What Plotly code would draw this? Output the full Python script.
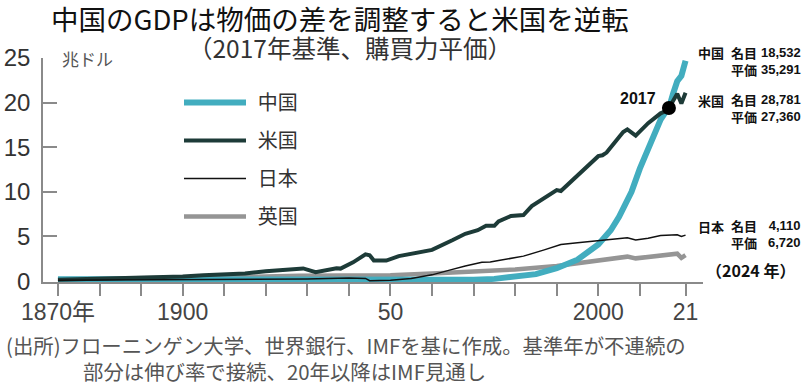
import plotly.graph_objects as go

# ---------------- data (trillion dollars, 2017 PPP) -------------
china_years = [1870, 1900, 1930, 1944, 1950, 1960, 1970, 1975, 1979, 1985, 1990, 1995,
               2000, 2003, 2005, 2008, 2010, 2012, 2013, 2015, 2016, 2017, 2018, 2019, 2020, 2021]
china_vals = [0.2, 0.2, 0.2, 0.05, 0.1, 0.15, 0.15, 0.25, 0.4, 0.78, 1.45, 2.4,
              4.1, 5.7, 7.2, 10.0, 12.6, 14.8, 16.3, 18.1, 18.8, 19.4, 21.0, 22.4, 23.0, 24.7]

us_years = [1870, 1880, 1890, 1900, 1905, 1910, 1915, 1920, 1925, 1929, 1932, 1936, 1937,
            1938, 1941, 1944, 1945, 1946, 1949, 1952, 1957, 1960, 1965, 1968, 1971, 1973,
            1975, 1976, 1979, 1982, 1984, 1990, 1991, 1995, 2000, 2001, 2002, 2006, 2007,
            2009, 2012, 2015, 2016, 2017, 2019, 2020, 2021]
us_vals = [0.15, 0.25, 0.37, 0.52, 0.65, 0.78, 0.85, 1.1, 1.3, 1.42, 1.0, 1.33, 1.45,
           1.4, 2.1, 3.0, 2.9, 2.3, 2.3, 2.8, 3.25, 3.5, 4.6, 5.3, 5.7, 6.2,
           6.2, 6.7, 7.3, 7.4, 8.4, 10.2, 10.1, 11.9, 14.0, 14.1, 14.4, 16.7, 17.0,
           16.3, 17.7, 18.8, 19.0, 19.4, 21.0, 19.9, 21.1]

japan_years = [1870, 1900, 1920, 1930, 1940, 1944, 1945, 1950, 1955, 1960, 1964, 1968,
               1972, 1974, 1976, 1982, 1987, 1991, 1995, 2000, 2007, 2009, 2012, 2015,
               2019, 2020, 2021]
japan_vals = [0.1, 0.15, 0.25, 0.25, 0.35, 0.3, 0.05, 0.1, 0.3, 0.7, 1.2, 1.7,
              2.1, 2.15, 2.3, 2.8, 3.5, 4.1, 4.3, 4.5, 4.85, 4.6, 4.8, 5.1,
              5.2, 5.0, 5.15]

uk_years = [1870, 1900, 1917, 1928, 1940, 1950, 1960, 1966, 1973, 1976, 1980, 1990,
            2000, 2007, 2009, 2015, 2019, 2020, 2021]
uk_vals = [0.2, 0.33, 0.5, 0.6, 0.65, 0.65, 0.85, 0.96, 1.15, 1.2, 1.3, 1.7,
           2.25, 2.74, 2.55, 2.85, 3.07, 2.6, 2.9]

series_names = ["中国", "米国", "日本", "英国"]

marker_year = [2017]
marker_val = [19.4]

x_tickvals = [1870, 1880, 1890, 1900, 1910, 1920, 1930, 1940, 1950, 1960, 1970, 1980,
              1990, 2000, 2010, 2021]
x_ticktext = ["1870年", "", "", "1900", "", "", "", "", "50", "", "", "", "", "2000", "", "21"]
y_tickvals = [0, 5, 10, 15, 20, 25]

right_notes = [
    ("中国", "名目", "18,532", "平価", "35,291", 61),
    ("米国", "名目", "28,781", "平価", "27,360", 108),
    ("日本", "名目", "4,110", "平価", "6,720", 234),
]

# ---------------- figure -----------------------------------------------------------------
W, H = 805, 388
L, R, T, B = 43, 102, 58, 106
PW, PH = W - L - R, H - T - B


def px(x):
    return (x - L) / PW


def py(y):
    return (H - B - y) / PH


CJK = "Noto Sans CJK JP"
LAT = "Liberation Sans, Arial, sans-serif"
TICKF = "Liberation Sans, Arial, Noto Sans CJK JP, sans-serif"
SP = "\u2004"

fig = go.Figure()

fig.add_trace(go.Scatter(x=uk_years, y=uk_vals, mode="lines", name=SP + series_names[3],
                         line=dict(color="#959595", width=4.5), legendrank=4,
                         legendgroup="uk"))
fig.add_trace(go.Scatter(x=china_years, y=china_vals, mode="lines", name=SP + series_names[0],
                         line=dict(color="#42adbf", width=6), legendrank=1,
                         legendgroup="cn"))
fig.add_trace(go.Scatter(x=us_years, y=us_vals, mode="lines", name=SP + series_names[1],
                         line=dict(color="#1d3b38", width=4), legendrank=2,
                         legendgroup="us"))
fig.add_trace(go.Scatter(x=japan_years, y=japan_vals, mode="lines", name=SP + series_names[2],
                         line=dict(color="#111111", width=1.5), legendrank=3,
                         legendgroup="jp"))
fig.add_trace(go.Scatter(x=marker_year, y=marker_val, mode="markers", showlegend=False,
                         marker=dict(color="black", size=14)))

ann = []
ann.append(dict(text="中国のGDPは物価の差を調整すると米国を逆転", x=px(49), y=py(18),
                xanchor="left", yanchor="middle",
                font=dict(family=CJK, size=27.5, color="#111111")))
ann.append(dict(text="（2017年基準、購買力平価）", x=px(186), y=py(48),
                xanchor="left", yanchor="middle",
                font=dict(family=CJK, size=24.5, color="#333333")))
ann.append(dict(text="兆ドル", x=px(60), y=py(58), xanchor="left", yanchor="middle",
                font=dict(family=CJK, size=17, color="#555555")))
ann.append(dict(text="<b>2017</b>", x=px(638), y=py(98), xanchor="center", yanchor="middle",
                font=dict(family=LAT, size=16, color="#111111")))

for c, n1, v1, n2, v2, yc in right_notes:
    ann.append(dict(text="<b>%s</b>" % c, x=px(696), y=py(yc - 8), xanchor="left",
                    yanchor="middle", font=dict(family=CJK, size=13, color="#111111")))
    ann.append(dict(text="<b>%s<br>%s</b>" % (n1, n2), x=px(729), y=py(yc), xanchor="left",
                    yanchor="middle", align="left",
                    font=dict(family=CJK, size=13, color="#111111")))
    ann.append(dict(text="<b>%s<br>%s</b>" % (v1, v2), x=px(803), y=py(yc), xanchor="right",
                    yanchor="middle", align="right",
                    font=dict(family=LAT, size=13, color="#111111")))

ann.append(dict(text="<b>（2024 年）</b>", x=px(704), y=py(270), xanchor="left", yanchor="middle",
                font=dict(family=CJK, size=16, color="#111111")))

ann.append(dict(text="(出所)フローニンゲン大学、世界銀行、IMFを基に作成。基準年が不連続の",
                x=px(4), y=py(345), xanchor="left", yanchor="middle",
                font=dict(family=CJK, size=20.4, color="#555555")))
ann.append(dict(text="部分は伸び率で接続、20年以降はIMF見通し",
                x=px(81), y=py(371), xanchor="left", yanchor="middle",
                font=dict(family=CJK, size=20.4, color="#555555")))

for a in ann:
    a.update(xref="paper", yref="paper", showarrow=False)

fig.update_layout(
    width=W, height=H,
    margin=dict(l=L, r=R, t=T, b=B, pad=0, autoexpand=False),
    paper_bgcolor="white", plot_bgcolor="white",
    showlegend=True,
    legend=dict(x=px(179), y=py(83), xanchor="left", yanchor="top",
                font=dict(family=CJK, size=20, color="#333333"),
                itemwidth=62, tracegroupgap=9, bgcolor="rgba(0,0,0,0)",
                traceorder="grouped"),
    annotations=ann,
    xaxis=dict(range=[1866.4, 2025.2], showgrid=False, zeroline=False, automargin=False,
               showline=True, linecolor="#8a8a8a", linewidth=1.5,
               ticks="outside", ticklen=12, tickcolor="#8a8a8a", tickwidth=1.5,
               tickvals=x_tickvals, ticktext=x_ticktext, ticklabelstandoff=-3,
               tickfont=dict(family=TICKF, size=23, color="#444444")),
    yaxis=dict(range=[-0.1, 25], showgrid=False, zeroline=False, automargin=False,
               showline=True, linecolor="#8a8a8a", linewidth=1.5,
               ticks="inside", ticklen=14, tickcolor="#8a8a8a", tickwidth=1.5,
               tickvals=y_tickvals, ticklabelstandoff=6,
               tickfont=dict(family=TICKF, size=24, color="#333333")),
)

fig.write_html("out.html", config={"displayModeBar": False},
               post_script="document.body.style.margin='0px';document.body.style.overflow='hidden';")
